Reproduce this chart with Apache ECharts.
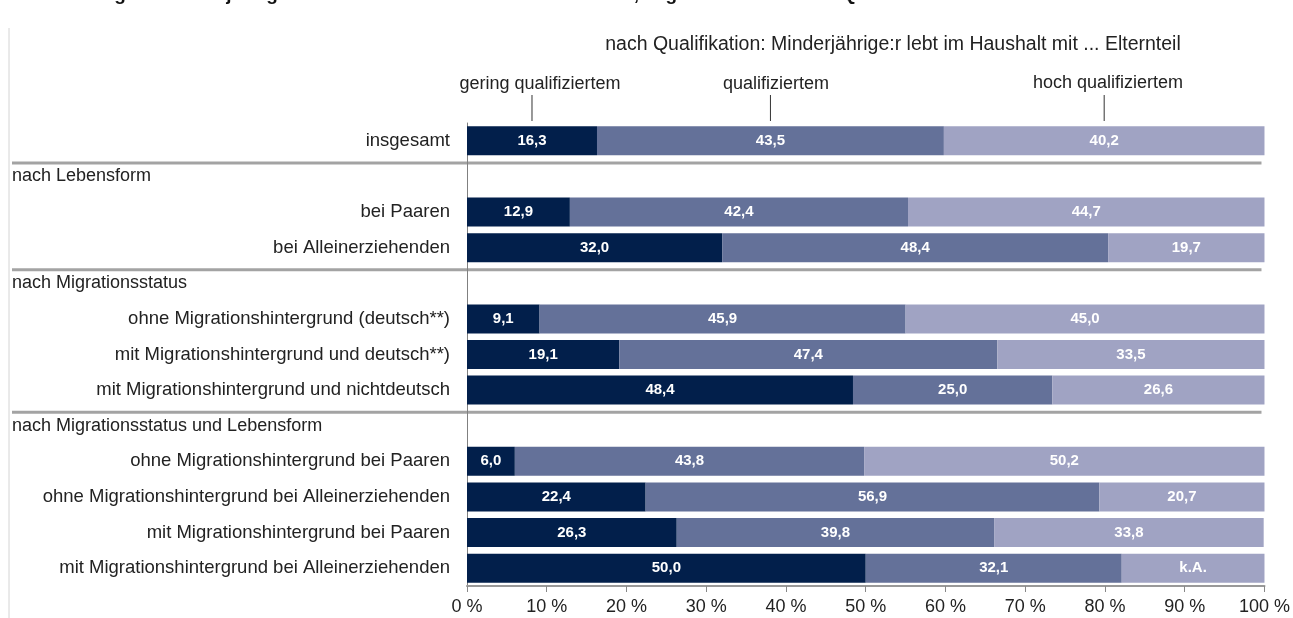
<!DOCTYPE html>
<html>
<head>
<meta charset="utf-8">
<script src="https://cdn.jsdelivr.net/npm/echarts@6/dist/echarts.min.js"></script>
<style>
html, body { margin: 0; padding: 0; background: #fff; }
#chart { width: 1293px; height: 618px; }
</style>
</head>
<body>
<div id="chart"></div>
<script>
var titleText = 'Abbildung 10: Minderjährige in Elternhaushalten nach Lebensform, Migrationsstatus und Qualifikation der Eltern';
var subTitle = 'nach Qualifikation: Minderjährige:r lebt im Haushalt mit ... Elternteil';

var categories = [
    'insgesamt',
    'nach Lebensform',
    'bei Paaren',
    'bei Alleinerziehenden',
    'nach Migrationsstatus',
    'ohne Migrationshintergrund (deutsch**)',
    'mit Migrationshintergrund und deutsch**)',
    'mit Migrationshintergrund und nichtdeutsch',
    'nach Migrationsstatus und Lebensform',
    'ohne Migrationshintergrund bei Paaren',
    'ohne Migrationshintergrund bei Alleinerziehenden',
    'mit Migrationshintergrund bei Paaren',
    'mit Migrationshintergrund bei Alleinerziehenden'
];
var headerRows = [1, 4, 8];
var separatorAfter = [0, 3, 7];

var levels = ['gering qualifiziertem', 'qualifiziertem', 'hoch qualifiziertem'];
var gering       = [16.3, null, 12.9, 32.0, null, 9.1, 19.1, 48.4, null, 6.0, 22.4, 26.3, 50.0];
var qualifiziert = [43.5, null, 42.4, 48.4, null, 45.9, 47.4, 25.0, null, 43.8, 56.9, 39.8, 32.1];
var hoch         = [40.2, null, 44.7, 19.7, null, 45.0, 33.5, 26.6, null, 50.2, 20.7, 33.8, 17.9];
// Balken ohne Angabe (Rest bis 100 %)
var hochText     = [null, null, null, null, null, null, null, null, null, null, null, null, 'k.A.'];

var colors = ['#021f4b', '#647199', '#a0a3c3'];
var font = '"Liberation Sans", Arial, sans-serif';

function fmt(v) {
    return v.toFixed(1).replace('.', ',');
}

function makeSeries(name, data, color, texts) {
    return {
        name: name,
        type: 'bar',
        stack: 'q',
        barWidth: 29,
        data: data,
        itemStyle: { color: color },
        label: {
            show: true,
            position: 'inside',
            color: '#fff',
            fontFamily: font,
            fontWeight: 'bold',
            fontSize: 15,
            formatter: function (p) {
                if (texts && texts[p.dataIndex]) return texts[p.dataIndex];
                return p.value == null ? '' : fmt(p.value);
            }
        }
    };
}

var myChart = echarts.init(document.getElementById('chart'));
var option = {
    animation: false,
    textStyle: { fontFamily: font },
    grid: { left: 467, right: 28, top: 123, bottom: 32 },
    xAxis: {
        type: 'value',
        min: 0,
        max: 100,
        interval: 10,
        axisLine: { show: true, lineStyle: { color: '#999', width: 2 } },
        axisTick: { show: true, length: 6, lineStyle: { color: '#888' } },
        splitLine: { show: false },
        axisLabel: {
            margin: 12,
            color: '#222',
            fontSize: 18,
            fontFamily: font,
            formatter: function (v) { return v + ' %'; }
        }
    },
    yAxis: {
        type: 'category',
        inverse: true,
        data: categories,
        axisLine: { show: true, lineStyle: { color: '#808080' } },
        axisTick: { show: false },
        axisLabel: {
            margin: 17,
            color: '#222',
            fontSize: 18.5,
            fontFamily: font,
            formatter: function (v, i) {
                if (headerRows.indexOf(i) >= 0) return '{h|' + v + '}';
                return v;
            },
            rich: {
                h: { width: 438, align: 'left', fontSize: 18, color: '#222', fontFamily: font }
            }
        }
    },
    series: [
        makeSeries(levels[0], gering, colors[0]),
        makeSeries(levels[1], qualifiziert, colors[1]),
        makeSeries(levels[2], hoch, colors[2], hochText)
    ]
};
myChart.setOption(option);

// Trennlinien, Rahmen, Beschriftung oben
var graphics = [];
var y0 = myChart.convertToPixel({ gridIndex: 0 }, [0, 0])[1];
var y1 = myChart.convertToPixel({ gridIndex: 0 }, [0, 1])[1];
var band = y1 - y0;
var xEnd = myChart.convertToPixel({ gridIndex: 0 }, [100, 0])[0];

separatorAfter.forEach(function (i) {
    var y = myChart.convertToPixel({ gridIndex: 0 }, [0, i])[1] + band * 0.62;
    graphics.push({
        type: 'line',
        shape: { x1: 12, y1: y, x2: xEnd - 3, y2: y },
        style: { stroke: '#a3a3a3', lineWidth: 3 }
    });
});

graphics.push({
    type: 'line',
    shape: { x1: 9, y1: 28, x2: 9, y2: 618 },
    style: { stroke: '#d4d4d4', lineWidth: 1 }
});

// Titel ist im Original oben abgeschnitten
graphics.push({
    type: 'text',
    style: {
        text: titleText, x: 32, y: 4,
        verticalAlign: 'bottom',
        font: 'bold 19px ' + font, fill: '#111'
    }
});

graphics.push({
    type: 'text',
    style: {
        text: subTitle, x: 893, y: 45,
        align: 'center', verticalAlign: 'middle',
        font: '19.5px ' + font, fill: '#222'
    }
});

// Hinweislinien auf die Segmente von "insgesamt"
var firstRow = [gering[0], qualifiziert[0], hoch[0]];
var labelX = [540, 776, 1108];
var labelY = [84, 84, 83];
var cum = 0;
firstRow.forEach(function (v, k) {
    var px = myChart.convertToPixel({ gridIndex: 0 }, [cum + v / 2, 0])[0];
    cum += v;
    graphics.push({
        type: 'line',
        shape: { x1: px, y1: 95, x2: px, y2: 121 },
        style: { stroke: '#333', lineWidth: 1 }
    });
    graphics.push({
        type: 'text',
        style: {
            text: levels[k], x: labelX[k], y: labelY[k],
            align: 'center', verticalAlign: 'middle',
            font: '18px ' + font, fill: '#222'
        }
    });
});

myChart.setOption({ graphic: graphics });
</script>
</body>
</html>
